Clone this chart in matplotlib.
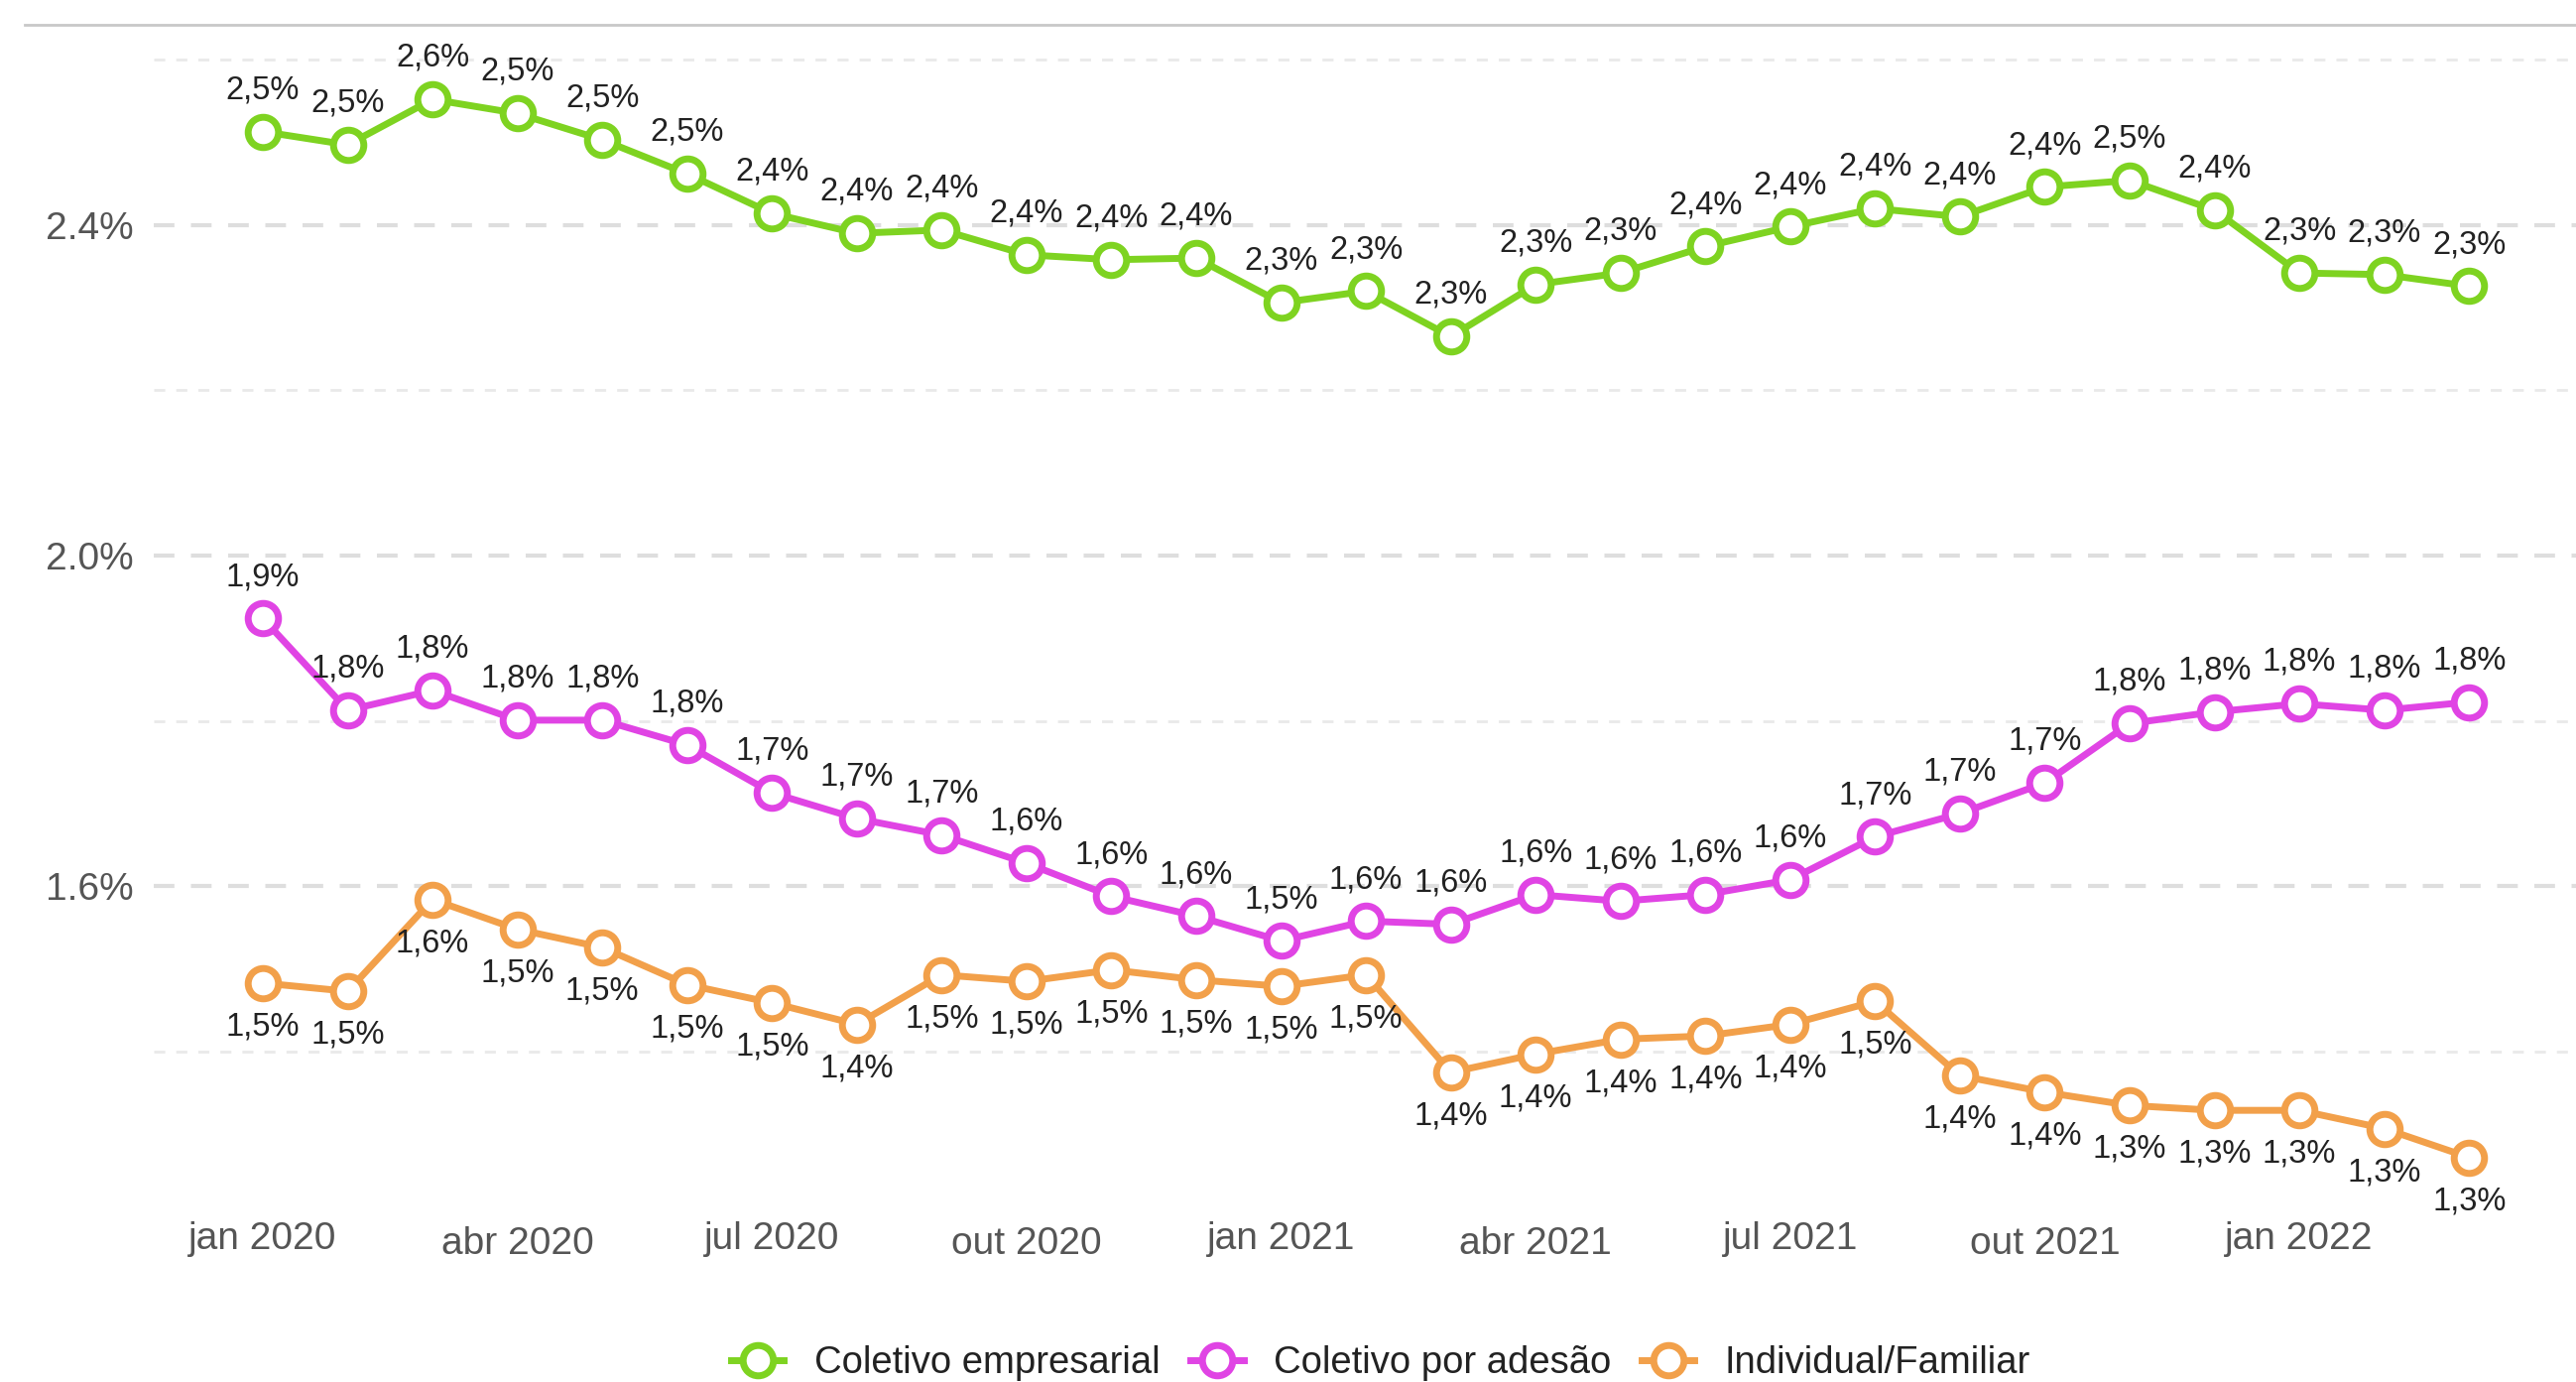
import matplotlib
matplotlib.use("Agg")
import matplotlib.pyplot as plt
from matplotlib.lines import Line2D
from matplotlib.ticker import FixedLocator, FuncFormatter
from matplotlib.transforms import ScaledTranslation

plt.rcParams['font.family'] = ['Liberation Sans', 'DejaVu Sans']

# meses jan/2020 .. mar/2022
meses = ['jan 2020', 'fev 2020', 'mar 2020', 'abr 2020', 'mai 2020', 'jun 2020',
         'jul 2020', 'ago 2020', 'set 2020', 'out 2020', 'nov 2020', 'dez 2020',
         'jan 2021', 'fev 2021', 'mar 2021', 'abr 2021', 'mai 2021', 'jun 2021',
         'jul 2021', 'ago 2021', 'set 2021', 'out 2021', 'nov 2021', 'dez 2021',
         'jan 2022', 'fev 2022', 'mar 2022']

coletivo_empresarial = [2.513, 2.497, 2.552, 2.535, 2.503, 2.462, 2.414, 2.390, 2.394,
                        2.364, 2.358, 2.360, 2.306, 2.320, 2.265, 2.328, 2.342, 2.374,
                        2.398, 2.420, 2.410, 2.446, 2.454, 2.418, 2.342, 2.340, 2.326]
coletivo_adesao = [1.924, 1.813, 1.837, 1.801, 1.801, 1.771, 1.713, 1.682, 1.662,
                   1.628, 1.588, 1.564, 1.534, 1.558, 1.554, 1.590, 1.582, 1.590,
                   1.608, 1.660, 1.688, 1.725, 1.797, 1.811, 1.821, 1.813, 1.823]
individual_familiar = [1.483, 1.473, 1.584, 1.548, 1.526, 1.481, 1.459, 1.433, 1.493,
                       1.485, 1.499, 1.487, 1.479, 1.493, 1.375, 1.397, 1.415, 1.419,
                       1.433, 1.461, 1.371, 1.351, 1.335, 1.329, 1.329, 1.307, 1.272]

series = [
    ('Coletivo empresarial', coletivo_empresarial, '#7ed321', 'above'),
    ('Coletivo por adesão', coletivo_adesao, '#e044e4', 'above'),
    ('Individual/Familiar', individual_familiar, '#f2a04a', 'below'),
]

W, H = 2597, 1393
fig = plt.figure(figsize=(W / 100, H / 100), dpi=100)
ax = fig.add_axes([155 / W, 1 - 1215 / H, 1 - 155 / W, (1215 - 26) / H])

x = list(range(len(meses)))
handles = []
for nome, vals, cor, pos in series:
    ax.plot(x, vals, color=cor, lw=5, marker='o', ms=22, mfc='white',
            mec=cor, mew=5, zorder=3, clip_on=False)
    for xi, v in zip(x, vals):
        txt = f"{v:.1f}".replace('.', ',') + '%'
        off = 24 if pos == 'above' else -38
        ax.annotate(txt, (xi, v), xytext=(0, off), textcoords='offset points',
                    ha='center', va='baseline', fontsize=23.5, color='#222222',
                    annotation_clip=False, zorder=4)
    handles.append(Line2D([], [], color=cor, lw=5, marker='o', ms=22, mfc='white',
                          mec=cor, mew=5, label=nome))

ax.set_xlim(-1.286, 27.26)
ax.set_ylim(1.214, 2.641)

ax.yaxis.set_major_locator(FixedLocator([1.6, 2.0, 2.4]))
ax.yaxis.set_minor_locator(FixedLocator([1.4, 1.8, 2.2, 2.6]))
ax.yaxis.set_major_formatter(FuncFormatter(lambda v, p: f"{v:.1f}%"))
ax.grid(axis='y', which='major', color='#dedede', lw=3, ls=(0, (5, 4)), zorder=0)
ax.grid(axis='y', which='minor', color='#e9e9e9', lw=2, ls=(0, (4, 4)), zorder=0)

ax.set_xticks(x[::3])
ax.set_xticklabels(meses[::3])
ax.tick_params(axis='x', length=0, pad=11.5, labelsize=28, labelcolor='#555555')
ax.tick_params(axis='y', which='both', length=0, pad=15, labelsize=28,
               labelcolor='#555555')
# rótulos sem descendente ficam um pouco mais baixos
for lab in ax.get_xticklabels():
    if not lab.get_text().startswith('j'):
        lab.set_transform(lab.get_transform() + ScaledTranslation(0, -0.05, fig.dpi_scale_trans))
for s in ax.spines.values():
    s.set_visible(False)

# linha cinza no topo
fig.add_artist(Line2D([25 / W, 1], [1 - 25 / H, 1 - 25 / H], color='#c8c8c8', lw=2))

fig.legend(handles=handles, loc='center', bbox_to_anchor=(0.536, 1 - 1374 / H),
           ncol=3, frameon=False, fontsize=27.5, handlelength=1.4,
           handletextpad=0.8, columnspacing=0.8, borderpad=0, labelcolor='#222222')

fig.savefig('out.png', dpi=100)
